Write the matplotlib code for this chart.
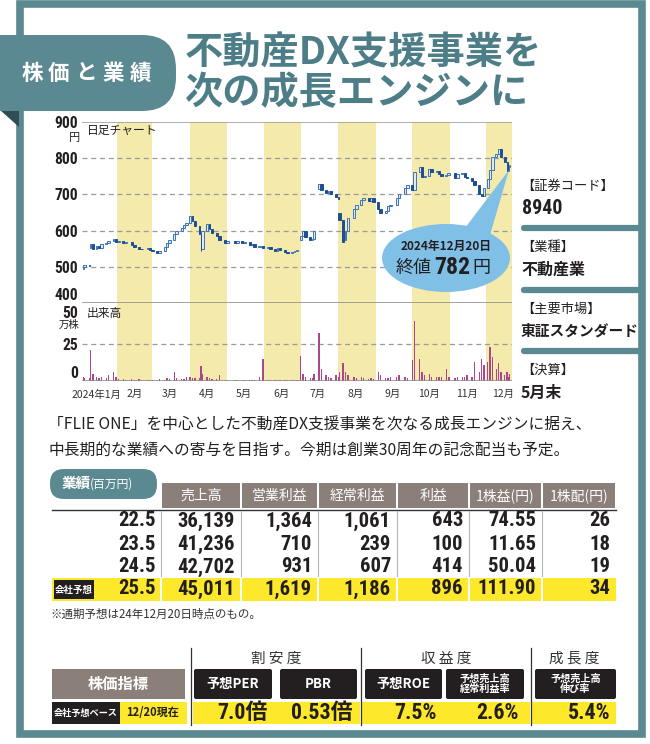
import numpy as np
import pandas as pd
import matplotlib
matplotlib.use('Agg')
import matplotlib.pyplot as plt
import matplotlib.dates as mdates
from matplotlib import font_manager as fm
from matplotlib.patches import Rectangle, FancyBboxPatch, Ellipse, Polygon

# ---- data ----
dates = ['2024-01-04', '2024-01-05', '2024-01-09', '2024-01-10', '2024-01-12', '2024-01-15', '2024-01-17',
         '2024-01-19', '2024-01-23', '2024-01-25', '2024-01-29', '2024-01-31',
         '2024-02-02', '2024-02-06', '2024-02-08', '2024-02-13', '2024-02-15', '2024-02-19', '2024-02-21',
         '2024-02-26', '2024-02-28',
         '2024-03-01', '2024-03-05', '2024-03-07', '2024-03-11', '2024-03-13', '2024-03-15', '2024-03-19',
         '2024-03-21', '2024-03-25', '2024-03-27', '2024-03-29',
         '2024-04-01', '2024-04-03', '2024-04-05', '2024-04-09', '2024-04-10', '2024-04-11', '2024-04-15',
         '2024-04-17', '2024-04-19', '2024-04-23', '2024-04-25', '2024-04-30',
         '2024-05-02', '2024-05-08', '2024-05-10', '2024-05-14', '2024-05-16', '2024-05-20', '2024-05-22',
         '2024-05-24', '2024-05-28', '2024-05-31',
         '2024-06-04', '2024-06-06', '2024-06-10', '2024-06-12', '2024-06-14', '2024-06-18', '2024-06-20',
         '2024-06-24', '2024-06-26', '2024-06-28',
         '2024-07-01', '2024-07-03', '2024-07-05', '2024-07-09', '2024-07-11', '2024-07-12', '2024-07-16',
         '2024-07-18', '2024-07-22', '2024-07-24', '2024-07-26', '2024-07-30',
         '2024-08-01', '2024-08-02', '2024-08-05', '2024-08-07', '2024-08-09', '2024-08-14', '2024-08-16',
         '2024-08-20', '2024-08-22', '2024-08-26', '2024-08-28', '2024-08-30',
         '2024-09-03', '2024-09-05', '2024-09-09', '2024-09-11', '2024-09-13', '2024-09-18', '2024-09-20',
         '2024-09-25', '2024-09-27',
         '2024-10-01', '2024-10-03', '2024-10-07', '2024-10-09', '2024-10-11', '2024-10-15', '2024-10-17',
         '2024-10-21', '2024-10-23', '2024-10-25', '2024-10-29', '2024-10-31',
         '2024-11-05', '2024-11-07', '2024-11-11', '2024-11-13', '2024-11-15', '2024-11-19', '2024-11-21',
         '2024-11-25', '2024-11-27', '2024-11-29',
         '2024-12-02', '2024-12-04', '2024-12-06', '2024-12-09', '2024-12-11', '2024-12-13', '2024-12-16',
         '2024-12-18', '2024-12-19', '2024-12-20']
opens = [495, 500, 506, 552, 562, 550, 558, 552, 562, 566, 572, 576,
         568, 572, 565, 568, 560, 556, 550, 548, 552,
         546, 543, 538, 545, 555, 567, 575, 590, 598, 606, 615,
         622, 640, 626, 612, 590, 548, 600, 618, 605, 594, 584, 575,
         566, 570, 566, 572, 565, 568, 560, 562, 555, 557,
         553, 555, 548, 545, 552, 546, 540, 538, 542, 545,
         575, 586, 600, 582, 575, 578, 715, 730, 712, 705, 710, 700,
         694, 650, 628, 575, 600, 635, 660, 672, 685, 690, 682, 690,
         680, 660, 648, 655, 668, 672, 690, 700, 718,
         727, 712, 762, 775, 748, 752, 770, 762, 765, 755, 750, 753,
         760, 745, 755, 758, 748, 745, 738, 725, 702, 695,
         718, 742, 768, 802, 812, 826, 802, 790, 766, 776]
closes = [500, 506, 502, 562, 550, 558, 552, 562, 566, 572, 576, 568,
          572, 565, 568, 560, 556, 550, 548, 552, 546,
          543, 538, 545, 555, 567, 575, 590, 598, 606, 615, 622,
          640, 626, 612, 590, 545, 600, 618, 605, 594, 584, 575, 566,
          570, 566, 572, 565, 568, 560, 562, 555, 557, 553,
          555, 548, 545, 552, 546, 540, 538, 542, 545, 547,
          586, 600, 582, 575, 578, 598, 730, 712, 705, 710, 700, 694,
          688, 628, 568, 600, 635, 660, 672, 685, 690, 682, 690, 680,
          660, 648, 655, 668, 672, 690, 700, 718, 727,
          712, 762, 775, 748, 752, 770, 762, 765, 755, 750, 753, 760,
          745, 755, 758, 748, 745, 738, 725, 702, 695, 718,
          742, 768, 802, 812, 826, 802, 790, 766, 776, 782]
volumes = [3, 2, 2, 21, 5, 3, 2, 3, 2, 4, 6, 3,
           1.5, 1.2, 1, 1.5, 1, 1.2, 0.8, 0.8, 1,
           0.8, 1, 1.5, 1, 2, 1.5, 5.7, 2, 1.5, 1.5, 3,
           2.5, 2, 2, 2, 10, 5, 3, 2, 1.5, 1.5, 3.7, 1,
           0.5, 0.6, 0.5, 0.5, 0.4, 0.5, 0.4, 0.5, 3, 15,
           1, 0.5, 0.4, 0.5, 0.4, 0.5, 0.4, 0.6, 0.5, 0.8,
           17, 5, 3, 2, 2, 5, 32, 8, 4, 3, 2, 4,
           3, 6, 12, 6, 4, 3, 2, 2.5, 2, 1.5, 2, 1.5,
           5.7, 4, 2, 2, 2.5, 3, 4, 3, 2,
           14, 40, 15, 6, 4, 5, 3, 3, 2.5, 3, 7.7, 3,
           2, 3, 2.5, 3, 4, 3, 13, 6, 15, 10.8,
           13, 22.5, 16, 8, 12, 6, 4, 5.7, 3, 5]

month_labels = ['2024年1月', '2月', '3月', '4月', '5月', '6月', '7月', '8月', '9月', '10月', '11月', '12月']
price_ticks = [400, 500, 600, 700, 800, 900]
vol_ticks = [0, 25, 50]

info_heads = ['【証券コード】', '【業種】', '【主要市場】', '【決算】']
info_values = ['8940', '不動産業', '東証スタンダード', '5月末']

headers = ['売上高', '営業利益', '経常利益', '利益', '1株益(円)', '1株配(円)']
periods = ['22.5', '23.5', '24.5', '25.5']
sales = [36139, 41236, 42702, 45011]
op_profit = [1364, 710, 931, 1619]
ord_profit = [1061, 239, 607, 1186]
net_profit = [643, 100, 414, 896]
eps = [74.55, 11.65, 50.04, 111.90]
dps = [26, 18, 19, 34]

groups = ['割 安 度', '収 益 度', '成 長 度']
ind_labels = ['予想PER', 'PBR', '予想ROE', '予想売上高\n経常利益率', '予想売上高\n伸び率']
ind_values = ['7.0倍', '0.53倍', '7.5%', '2.6%', '5.4%']

# ---- fonts ----
JP = 'Noto Sans CJK JP'
plt.rcParams['font.family'] = [JP, 'DejaVu Sans']
names = {f.name for f in fm.fontManager.ttflist}
NUM_FAMILY, NUM_STRETCH, NUM_SCALE = 'DejaVu Sans', 'normal', 0.72
for fam, sc in [('Liberation Sans Narrow', 1.0), ('Roboto Condensed', 0.9)]:
    if fam in names:
        NUM_FAMILY, NUM_STRETCH, NUM_SCALE = fam, 'normal', sc
        break
else:
    if any(f.name == 'DejaVu Sans' and f.stretch == 'condensed' for f in fm.fontManager.ttflist):
        NUM_STRETCH, NUM_SCALE = 'condensed', 0.8


def numfont(size):
    return dict(family=[NUM_FAMILY, JP], fontstretch=NUM_STRETCH, fontweight='bold', fontsize=size * NUM_SCALE)


TEAL = '#5a8991'
BROWN = '#8b7f79'
YELLOW = '#fde82c'
BAND = '#f3eaab'
BLUE_D = '#1d4f91'
BLUE_L = '#3f74b8'
VOLC = '#a9488f'
INK = '#231f20'

W, H = 650, 744
fig = plt.figure(figsize=(6.5, 7.44), dpi=100)


def box(x0, y0, x1, y1):
    return [x0 / W, 1 - y1 / H, (x1 - x0) / W, (y1 - y0) / H]


ax = fig.add_axes(box(82, 122, 512, 303))
vax = fig.add_axes(box(82, 303, 512, 381))
ov = fig.add_axes([0, 0, 1, 1], zorder=5)
ov.set_xlim(0, W)
ov.set_ylim(H, 0)
ov.axis('off')

# ---- price chart ----
d = pd.to_datetime(dates)
x = mdates.date2num(d)
o = np.array(opens, float)
c = np.array(closes, float)
v = np.array(volumes, float)
xmin = mdates.date2num(pd.Timestamp('2024-01-03'))
xmax = mdates.date2num(pd.Timestamp('2024-12-22'))

for a in (ax, vax):
    for m in [2, 4, 6, 8, 10, 12]:
        s = mdates.date2num(pd.Timestamp(2024, m, 1))
        e = mdates.date2num(pd.Timestamp(2024, m + 1, 1)) if m < 12 else xmax
        a.axvspan(s, e, color=BAND, lw=0, zorder=0)
    a.set_xlim(xmin, xmax)
    a.set_facecolor('none')
    for sp in a.spines.values():
        sp.set_visible(False)

wid = np.minimum(np.diff(x, append=x[-1] + 1), 3) * 0.75
up = c >= o
body = np.maximum(np.abs(c - o), 2.5)
bot = np.minimum(o, c)
ax.bar(x[up], body[up], bottom=bot[up], width=wid[up], facecolor='#dfe9f5', edgecolor=BLUE_L,
       linewidth=0.7, zorder=3)
ax.bar(x[~up], body[~up], bottom=bot[~up], width=wid[~up], facecolor=BLUE_D, edgecolor=BLUE_D,
       linewidth=0.7, zorder=3)
ax.set_ylim(400, 900)
for y in [500, 600, 700, 800]:
    ax.axhline(y, color='#9a9a9a', lw=0.9, ls=(0, (4, 3)), zorder=1)
ax.axhline(900, color='#9a9a9a', lw=1.1, zorder=1)
ax.axhline(400, color='#8a8a8a', lw=1.1, zorder=4)
ax.set_xticks([])
ax.set_yticks(price_ticks)
ax.set_yticklabels([str(t) for t in price_ticks], **numfont(12.5), color=INK)
ax.tick_params(axis='y', length=0, pad=3)
tl = ax.get_yticklabels()
tl[0].set_va('bottom')
tl[-1].set_va('center_baseline')

# ---- volume ----
vax.bar(x, v, width=1.1, color=VOLC, zorder=3)
vax.set_ylim(0, 52)
vax.axhline(25, color='#9a9a9a', lw=0.9, ls=(0, (4, 3)), zorder=1)
vax.axhline(0, color='#8a8a8a', lw=1.1, zorder=4)
vax.set_yticks(vol_ticks)
vax.set_yticklabels([str(t) for t in vol_ticks], **numfont(12.5), color=INK)
vax.tick_params(axis='y', length=0, pad=3)
vl = vax.get_yticklabels()
vl[0].set_va('bottom')
vl[-1].set_va('top')
mids = [mdates.date2num(pd.Timestamp(2024, m, 15)) for m in range(1, 13)]
vax.set_xticks(mids)
vax.set_xticklabels(month_labels, fontsize=7.5, color='#333333')
vax.tick_params(axis='x', length=0, pad=6)

# labels inside chart
ov.text(75, 138, '円', fontsize=8, ha='center', va='center', color=INK)
ov.text(87, 130, '日足チャート', fontsize=8.5, ha='left', va='center', color=INK)
ov.text(69, 325, '万株', fontsize=7.5, ha='center', va='center', color=INK)
ov.text(87, 313, '出来高', fontsize=8.5, ha='left', va='center', color=INK)

# callout
ov.add_patch(Polygon([(462, 232), (488, 242), (509, 170)], closed=True, color='#80c0e7', lw=0))
ov.add_patch(Ellipse((446, 258), 128, 68, color='#80c0e7', lw=0))
ov.text(446, 246, '2024年12月20日', fontsize=8.5, fontweight='bold', ha='center', va='center', color=INK)
ov.text(432, 268, '終値', fontsize=13, ha='right', va='center', color=INK)
ov.text(452, 268, '782', ha='center', va='center', color=INK, **numfont(19))
ov.text(472, 268, '円', fontsize=13, ha='left', va='center', color=INK)

# ---- frame, tab, title ----
ov.add_patch(Rectangle((19.5, 4), 622, 730, fill=False, edgecolor=TEAL, lw=5.5))
ov.add_patch(Polygon([(0, 110), (19, 110), (19, 127)], closed=True, color='#2f4d53', lw=0))
ov.add_patch(FancyBboxPatch((-40, 35), 216, 76, boxstyle='round,pad=0,rounding_size=34',
                            color=TEAL, lw=0))
for i, ch in enumerate('株価と業績'):
    ov.text(32 + i * 27, 73, ch, fontsize=15.5, fontweight='bold', color='white', ha='center', va='center')
ov.text(185, 53, '不動産DX支援事業を', fontsize=27.5, fontweight='bold', color='#4d7e87', ha='left', va='center')
ov.text(185, 93, '次の成長エンジンに', fontsize=27.5, fontweight='bold', color='#4d7e87', ha='left', va='center')

# ---- right info panel ----
for i, (hd, val) in enumerate(zip(info_heads, info_values)):
    y0 = 186 + i * 61.5
    ov.text(521, y0, hd, fontsize=9.5, color=INK, ha='left', va='center')
    if i == 0:
        ov.text(522, y0 + 23, val, ha='left', va='center', color=INK, **numfont(16))
    else:
        fs = 10.6 if len(val) > 5 else 11.5
        ov.text(521, y0 + 22, val, fontsize=fs, fontweight='bold', ha='left', va='center', color=INK)
    if i < 3:
        ov.plot([524, 641], [y0 + 42, y0 + 42], color=TEAL, lw=4.5, solid_capstyle='round')

# ---- description ----
ov.text(48, 425, '「FLIE ONE」を中心とした不動産DX支援事業を次なる成長エンジンに据え、',
        fontsize=11.3, color=INK, ha='left', va='center')
ov.text(48, 450, '中長期的な業績への寄与を目指す。今期は創業30周年の記念配当も予定。',
        fontsize=11.3, color=INK, ha='left', va='center')

# ---- results table ----
edges = [161, 241, 318, 397, 469, 542, 616]
ov.add_patch(FancyBboxPatch((50, 469), 107, 30, boxstyle='round,pad=0,rounding_size=14', color=TEAL, lw=0))
ov.text(62, 483, '業績', fontsize=10.5, fontweight='bold', color='white', ha='left', va='center')
ov.text(90, 484, '(百万円)', fontsize=8.5, color='white', ha='left', va='center')
for i, hd in enumerate(headers):
    ov.add_patch(Rectangle((edges[i] + 1, 483), edges[i + 1] - edges[i] - 2, 25, color=BROWN, lw=0))
    ov.text((edges[i] + edges[i + 1]) / 2, 496, hd, fontsize=10, color='white', ha='center', va='center')
ov.plot([52, edges[-1]], [509.5, 509.5], color='#333333', lw=1)
row_y = [521, 544, 567, 589]
ov.add_patch(Rectangle((52, 578), edges[-1] - 52, 23, color=YELLOW, lw=0))
for e in edges[:-1]:
    ov.plot([e, e], [511, 577], color='#b5b5b5', lw=0.8)
    ov.plot([e, e], [578, 601], color='white', lw=1.5)
ov.add_patch(Rectangle((54, 580), 40, 19, color=INK, lw=0))
ov.text(74, 589.5, '会社予想', fontsize=6.8, fontweight='bold', color='white', ha='center', va='center')
cols = [[f'{s:,}' for s in sales], [f'{s:,}' for s in op_profit], [f'{s:,}' for s in ord_profit],
        [f'{s:,}' for s in net_profit], [f'{s:.2f}' for s in eps], [str(s) for s in dps]]
for r, y in enumerate(row_y):
    ov.text(156, y, periods[r], ha='right', va='center', color=INK, **numfont(16.5))
    for j, col in enumerate(cols):
        ov.text(edges[j + 1] - 6, y, col[r], ha='right', va='center', color=INK, **numfont(16.5))
ov.text(50, 614, '※通期予想は24年12月20日時点のもの。', fontsize=8.3, color='#333333', ha='left', va='center')

# ---- indicators ----
for gx, g in zip([276, 446, 574], groups):
    ov.text(gx, 659, g, fontsize=10.5, color='#333333', ha='center', va='center')
for lx in [191, 361, 531]:
    ov.plot([lx, lx], [648, 725], color='#333333', lw=0.9)
ov.add_patch(Rectangle((52, 669), 133, 30, color=BROWN, lw=0))
ov.text(118, 684, '株価指標', fontsize=11, fontweight='bold', color='white', ha='center', va='center')
spans = [(194, 272), (280, 357), (365, 442), (446, 524), (535, 616)]
for (a0, a1), lab in zip(spans, ind_labels):
    ov.add_patch(FancyBboxPatch((a0, 669), a1 - a0, 30, boxstyle='round,pad=0,rounding_size=2', color=INK, lw=0))
    fs = 9.5 if '\n' not in lab else 7.3
    ov.text((a0 + a1) / 2, 684, lab, fontsize=fs, fontweight='bold', color='white', ha='center', va='center',
            linespacing=0.95)
ov.add_patch(Rectangle((52, 702), 68, 22, color=INK, lw=0))
ov.text(86, 713, '会社予想ベース', fontsize=6.6, fontweight='bold', color='white', ha='center', va='center')
ov.add_patch(Rectangle((120, 702), 67, 22, color=YELLOW, lw=0))
ov.text(153, 713, '12/20現在', fontsize=8, fontweight='bold', color=INK, ha='center', va='center')
for a0, a1 in [(193, 360), (362, 530), (532, 616)]:
    ov.add_patch(Rectangle((a0, 702), a1 - a0, 22, color=YELLOW, lw=0))
for (a0, a1), val in zip(spans, ind_values):
    ov.text(a1 - 5, 713, val, ha='right', va='center', color=INK, **numfont(17.5))

fig.savefig('out.png', dpi=100, facecolor='white')
